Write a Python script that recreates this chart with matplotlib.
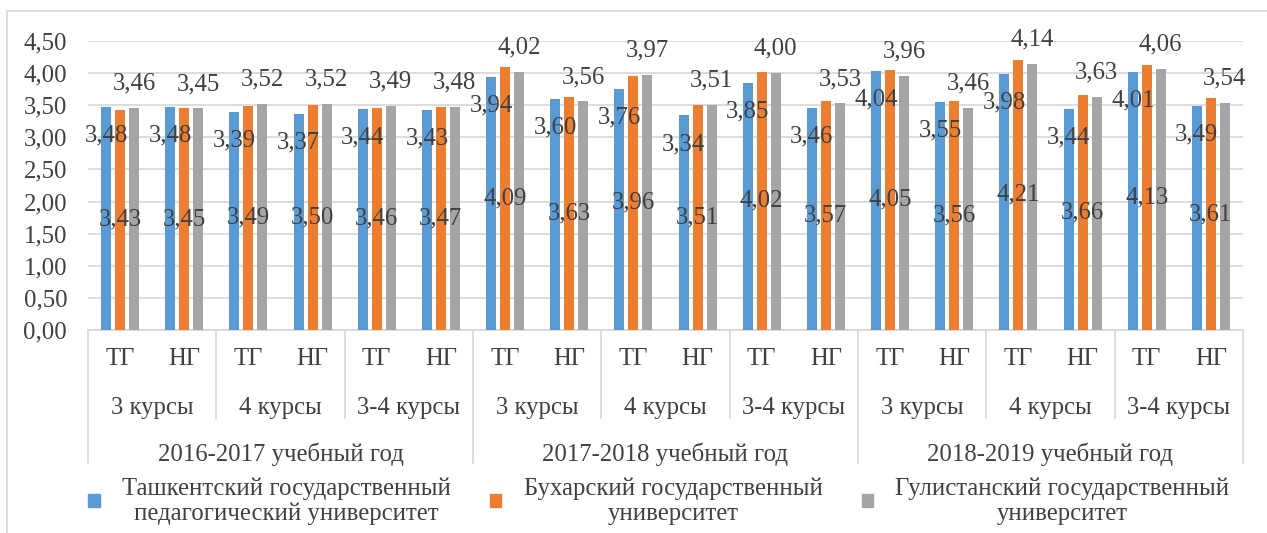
import matplotlib
matplotlib.use("Agg")
import matplotlib.pyplot as plt
import matplotlib.transforms as mtransforms
from matplotlib.patches import Rectangle
from matplotlib.lines import Line2D
import numpy as np

plt.rcParams['font.family'] = ['Liberation Serif', 'DejaVu Serif']

groups = ["ТГ", "НГ"] * 9
courses = ["3 курсы", "4 курсы", "3-4 курсы"] * 3
years = ["2016-2017 учебный год", "2017-2018 учебный год", "2018-2019 учебный год"]
series_names = ["Ташкентский государственный\nпедагогический университет",
                "Бухарский государственный\nуниверситет",
                "Гулистанский государственный\nуниверситет"]
tashkent = [3.48, 3.48, 3.39, 3.37, 3.44, 3.43, 3.94, 3.60, 3.76, 3.34, 3.85, 3.46,
            4.04, 3.55, 3.98, 3.44, 4.01, 3.49]
bukhara = [3.43, 3.45, 3.49, 3.50, 3.46, 3.47, 4.09, 3.63, 3.96, 3.51, 4.02, 3.57,
           4.05, 3.56, 4.21, 3.66, 4.13, 3.61]
gulistan = [3.46, 3.45, 3.52, 3.52, 3.49, 3.48, 4.02, 3.56, 3.97, 3.51, 4.00, 3.53,
            3.96, 3.46, 4.14, 3.63, 4.06, 3.54]
yticks = [0, 0.5, 1.0, 1.5, 2.0, 2.5, 3.0, 3.5, 4.0, 4.5]

colors = ["#5B9BD5", "#ED7D31", "#A5A5A5"]
txtc = "#404040"
fs = 17.8

fig = plt.figure(figsize=(12.67, 5.33), dpi=100)
ax = fig.add_axes([88/1267, 1-330/533, (1243-88)/1267, (330-41)/533])

n = len(groups)
x = np.arange(n)
step = 0.218
width = 0.156
data = [tashkent, bukhara, gulistan]
for i, (vals, c) in enumerate(zip(data, colors)):
    xs = x + (i - 1) * step
    ax.bar(xs, vals, width=width, color=c, zorder=3)
    for xv, v in zip(xs, vals):
        s = f"{v:.2f}".replace('.', ',')
        if i == 0:
            ax.annotate(s, (xv, v), xytext=(0, -20.5), textcoords='offset points',
                        ha='center', va='center', fontsize=fs, color=txtc, zorder=5)
        elif i == 1:
            ax.text(xv, v / 2, s, ha='center', va='center', fontsize=fs, color=txtc, zorder=5)
        else:
            ax.annotate(s, (xv, v), xytext=(0, 17.5), textcoords='offset points',
                        ha='center', va='center', fontsize=fs, color=txtc, zorder=5)

ax.set_xlim(-0.5, n - 0.5)
ax.set_ylim(0, 4.5)
ax.set_yticks(yticks)
ax.set_yticklabels([f"{t:.2f}".replace('.', ',') for t in yticks], fontsize=fs, color=txtc)
ax.yaxis.grid(True, color="#D9D9D9", lw=1.3, zorder=0)
ax.tick_params(axis='x', length=0, pad=13)
ax.tick_params(axis='y', length=0, pad=15)
for sp in ['top', 'right', 'left']:
    ax.spines[sp].set_visible(False)
ax.spines['bottom'].set_color("#D9D9D9")
ax.spines['bottom'].set_linewidth(1.3)

ax.set_xticks(x)
ax.set_xticklabels(groups, fontsize=fs, color=txtc)

trans = mtransforms.blended_transform_factory(ax.transData, ax.transAxes)
lvl2_y = -0.27
lvl3_y = -0.43
for k, c in enumerate(courses):
    ax.text(2 * k + 0.5, lvl2_y, c, transform=trans, ha='center', va='center',
            fontsize=fs, color=txtc, clip_on=False)
for k, yname in enumerate(years):
    ax.text(6 * k + 2.5, lvl3_y, yname, transform=trans, ha='center', va='center',
            fontsize=fs, color=txtc, clip_on=False)

for b in range(0, n + 1, 2):
    xb = b - 0.5
    bottom = -0.46 if b % 6 == 0 else -0.304
    ax.add_line(Line2D([xb, xb], [0, bottom], transform=trans, color="#D9D9D9",
                       lw=1.3, clip_on=False))

# outer chart frame
fig.patches.append(Rectangle((7/1267, -0.2), 1.5, 1.2 - 11/533, transform=fig.transFigure,
                             fill=False, edgecolor="#D9D9D9", lw=1.3))

handles = [Rectangle((0, 0), 1, 1, color=c) for c in colors]
leg = fig.legend(handles, series_names, loc='center', ncol=3,
                 bbox_to_anchor=(659/1267, 1 - 501/533), frameon=False, fontsize=fs,
                 handlelength=0.45, handleheight=0.45, handletextpad=0.9,
                 columnspacing=1.6, labelcolor=txtc, labelspacing=0.2)
for t in leg.get_texts():
    t.set_multialignment('center')
    t.set_linespacing(1.15)

fig.savefig("out.png", dpi=100)
